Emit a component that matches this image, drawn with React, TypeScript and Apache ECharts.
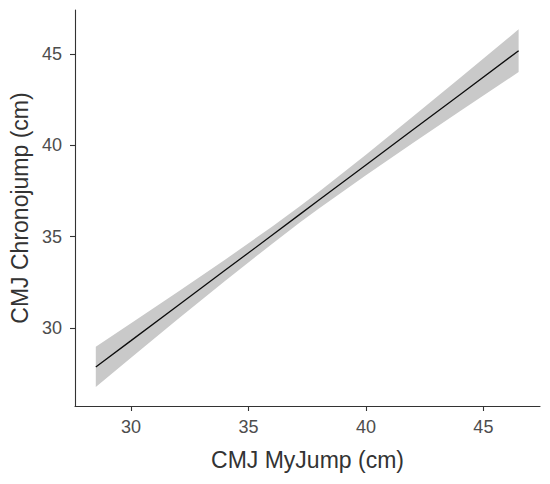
import React, { useEffect, useRef } from "react";
import * as echarts from "echarts";

// x positions (CMJ MyJump, cm) where the fit and its confidence band were read
const xValues = [28.5, 30, 32, 34, 36, 37.2, 38, 40, 42, 44, 46.5];
// fitted line (CMJ Chronojump, cm)
const fitValues = [27.86, 29.3, 31.23, 33.15, 35.07, 36.23, 37.0, 38.92, 40.85, 42.77, 45.18];
// lower and upper confidence limits
const lowerValues = [26.76, 28.36, 30.48, 32.57, 34.6, 35.78, 36.54, 38.36, 40.13, 41.86, 44.01];
const upperValues = [28.96, 30.25, 31.98, 33.73, 35.54, 36.68, 37.46, 39.48, 41.57, 43.68, 46.35];
const xTicks = [30, 35, 40, 45];
const yTicks = [30, 35, 40, 45];

const FONT = "'Liberation Sans', Arial, Helvetica, sans-serif";

export default function App() {
  const ref = useRef<HTMLDivElement>(null);
  useEffect(() => {
    if (!ref.current) return;
    const chart = echarts.init(ref.current, null, { renderer: "svg" });
    const bandData = xValues.map((x, i) => [x, lowerValues[i], upperValues[i]]);
    const fitData = xValues.map((x, i) => [x, fitValues[i]]);
    const axisCommon = {
      type: "value" as const,
      nameLocation: "middle" as const,
      nameTextStyle: { fontSize: 23, color: "#333333", fontFamily: FONT },
      axisLine: { show: true, onZero: false, lineStyle: { color: "#333333", width: 1.1 } },
      axisTick: { show: true, length: 5, lineStyle: { color: "#333333", width: 1.1 } },
      splitLine: { show: false },
    };
    chart.setOption({
      animation: false,
      backgroundColor: "#ffffff",
      grid: { left: 75, right: 10, top: 10, bottom: 78, containLabel: false },
      xAxis: {
        ...axisCommon,
        name: "CMJ MyJump (cm)",
        nameGap: 42,
        min: 27.615,
        max: 47.41,
        axisTick: { ...axisCommon.axisTick, customValues: xTicks },
        axisLabel: {
          customValues: xTicks,
          fontSize: 18,
          color: "#4d4d4d",
          fontFamily: FONT,
          margin: 12,
        },
      },
      yAxis: {
        ...axisCommon,
        name: "CMJ Chronojump (cm)",
        nameGap: 44,
        min: 25.72,
        max: 47.41,
        axisTick: { ...axisCommon.axisTick, customValues: yTicks },
        axisLabel: {
          customValues: yTicks,
          fontSize: 18,
          color: "#4d4d4d",
          fontFamily: FONT,
          margin: 13,
        },
      },
      series: [
        {
          type: "custom",
          data: bandData,
          silent: true,
          encode: { x: 0, y: [1, 2] },
          renderItem: (params: any, api: any) => {
            if (params.dataIndex !== 0) return null;
            const upper = bandData.map((d) => api.coord([d[0], d[2]]));
            const lower = bandData
              .slice()
              .reverse()
              .map((d) => api.coord([d[0], d[1]]));
            return {
              type: "polygon",
              shape: { points: upper.concat(lower) },
              style: { fill: "#c9c9c9", stroke: "none" },
            };
          },
          z: 1,
        },
        {
          type: "line",
          data: fitData,
          symbol: "none",
          lineStyle: { color: "#0d0d0d", width: 1.3 },
          silent: true,
          z: 2,
        },
      ],
    });
    return () => chart.dispose();
  }, []);
  return (
    <div
      ref={ref}
      style={{ position: "fixed", left: 0, top: 0, width: 550, height: 484 }}
    />
  );
}
